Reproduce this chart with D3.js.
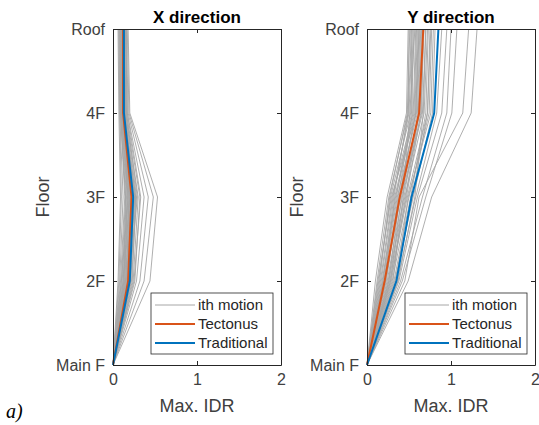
<!DOCTYPE html>
<html>
<head>
<meta charset="utf-8">
<script src="https://cdn.jsdelivr.net/npm/d3@7/dist/d3.min.js"></script>
<style>
  body { margin: 0; background: #fff; }
  text { font-family: "Liberation Sans", Arial, Helvetica, sans-serif; }
</style>
</head>
<body>
<script>
// floors, bottom to top
var floors = ["Main F", "2F", "3F", "4F", "Roof"];
var xTicks = [0, 1, 2];

// max IDR per ground motion, values at 2F, 3F, 4F, Roof (Main F = 0)
var motionsX = [
  [0.44, 0.53, 0.20, 0.18], [0.37, 0.48, 0.19, 0.17], [0.32, 0.42, 0.18, 0.16],
  [0.28, 0.37, 0.17, 0.15], [0.26, 0.32, 0.16, 0.15], [0.24, 0.30, 0.15, 0.14],
  [0.22, 0.28, 0.15, 0.13], [0.21, 0.27, 0.14, 0.13], [0.20, 0.26, 0.14, 0.12],
  [0.19, 0.25, 0.13, 0.12], [0.18, 0.24, 0.13, 0.12], [0.17, 0.23, 0.12, 0.11],
  [0.16, 0.22, 0.12, 0.11], [0.15, 0.21, 0.12, 0.10], [0.15, 0.20, 0.11, 0.10],
  [0.14, 0.19, 0.11, 0.10], [0.13, 0.18, 0.10, 0.09], [0.12, 0.17, 0.10, 0.09],
  [0.11, 0.16, 0.10, 0.09], [0.10, 0.15, 0.09, 0.08], [0.09, 0.14, 0.09, 0.08],
  [0.08, 0.12, 0.08, 0.07], [0.07, 0.10, 0.08, 0.07], [0.06, 0.09, 0.07, 0.06],
  [0.23, 0.27, 0.13, 0.14], [0.19, 0.29, 0.16, 0.12], [0.17, 0.21, 0.11, 0.13],
  [0.20, 0.24, 0.15, 0.16], [0.12, 0.20, 0.12, 0.11], [0.14, 0.17, 0.14, 0.12],
  [0.25, 0.33, 0.17, 0.15], [0.18, 0.26, 0.12, 0.10], [0.10, 0.18, 0.11, 0.10],
  [0.16, 0.19, 0.13, 0.14], [0.21, 0.23, 0.10, 0.11], [0.13, 0.15, 0.09, 0.10]
];
var tectonusX = [0.18, 0.22, 0.12, 0.12];
var traditionalX = [0.20, 0.24, 0.13, 0.13];

var motionsY = [
  [0.49, 0.77, 1.24, 1.31], [0.45, 0.62, 1.14, 1.21], [0.42, 0.70, 1.01, 1.07],
  [0.40, 0.66, 0.95, 1.00], [0.38, 0.60, 0.89, 0.95], [0.36, 0.58, 0.83, 0.89],
  [0.33, 0.55, 0.78, 0.81], [0.30, 0.50, 0.74, 0.77], [0.28, 0.48, 0.72, 0.75],
  [0.32, 0.52, 0.70, 0.73], [0.26, 0.45, 0.68, 0.72], [0.24, 0.42, 0.66, 0.70],
  [0.27, 0.47, 0.64, 0.68], [0.22, 0.40, 0.63, 0.66], [0.25, 0.44, 0.61, 0.64],
  [0.20, 0.36, 0.60, 0.63], [0.23, 0.38, 0.58, 0.62], [0.18, 0.34, 0.57, 0.60],
  [0.21, 0.33, 0.56, 0.59], [0.16, 0.30, 0.55, 0.58], [0.19, 0.35, 0.53, 0.56],
  [0.14, 0.28, 0.52, 0.55], [0.17, 0.31, 0.50, 0.54], [0.12, 0.26, 0.49, 0.53],
  [0.15, 0.27, 0.48, 0.51], [0.10, 0.24, 0.47, 0.49], [0.29, 0.46, 0.62, 0.65],
  [0.34, 0.54, 0.72, 0.76], [0.26, 0.39, 0.58, 0.61], [0.31, 0.43, 0.51, 0.57],
  [0.37, 0.57, 0.67, 0.70], [0.22, 0.37, 0.54, 0.52], [0.13, 0.29, 0.59, 0.62],
  [0.35, 0.49, 0.76, 0.79], [0.28, 0.41, 0.65, 0.67], [0.19, 0.32, 0.49, 0.50]
];
var tectonusY = [0.21, 0.39, 0.62, 0.67];
var traditionalY = [0.35, 0.53, 0.80, 0.85];

var legendNames = ["ith motion", "Tectonus", "Traditional"];

var grey = "#a6a6a6", orange = "#D95319", blue = "#0072BD";
var axisCol = "#262626", labelCol = "#404040";

var svg = d3.select("body").append("svg")
  .attr("width", 539)
  .attr("height", 425);

function drawPanel(left, title, motions, tect, trad) {
  var x = d3.scaleLinear().domain([0, 2]).range([left, left + 168]);
  var y = d3.scalePoint().domain(floors).range([365, 29]);

  var line = d3.line()
    .x(function (d) { return x(d); })
    .y(function (d, i) { return y(floors[i]); });

  var g = svg.append("g");

  motions.forEach(function (m) {
    g.append("path")
      .attr("d", line([0].concat(m)))
      .attr("fill", "none")
      .attr("stroke", grey)
      .attr("stroke-width", 0.9);
  });
  g.append("path")
    .attr("d", line([0].concat(tect)))
    .attr("fill", "none").attr("stroke", orange).attr("stroke-width", 2);
  g.append("path")
    .attr("d", line([0].concat(trad)))
    .attr("fill", "none").attr("stroke", blue).attr("stroke-width", 2);

  // axes, MATLAB style box with inward ticks
  var bottom = g.append("g").attr("transform", "translate(0,365)")
    .call(d3.axisBottom(x).tickValues(xTicks).tickFormat(d3.format("d"))
      .tickSizeInner(-4).tickSizeOuter(0).tickPadding(9));
  var top = g.append("g").attr("transform", "translate(0,29)")
    .call(d3.axisTop(x).tickValues(xTicks).tickSizeInner(-4).tickSizeOuter(0).tickFormat(""));
  var leftAx = g.append("g").attr("transform", "translate(" + left + ",0)")
    .call(d3.axisLeft(y).tickSizeInner(-4).tickSizeOuter(0).tickPadding(8));
  var rightAx = g.append("g").attr("transform", "translate(" + (left + 168) + ",0)")
    .call(d3.axisRight(y).tickSizeInner(-4).tickSizeOuter(0).tickFormat(""));

  [bottom, top, leftAx, rightAx].forEach(function (a) {
    a.attr("font-size", 16).attr("font-family", "'Liberation Sans', Arial, sans-serif");
    a.select(".domain").attr("stroke", axisCol).attr("stroke-width", 1);
    a.selectAll(".tick line").attr("stroke", axisCol);
    a.selectAll(".tick text").attr("fill", labelCol);
  });

  g.append("text")
    .attr("x", left + 84).attr("y", 23)
    .attr("text-anchor", "middle")
    .style("font-size", "17px").style("font-weight", "bold")
    .attr("fill", "#000")
    .text(title);

  g.append("text")
    .attr("x", left + 84).attr("y", 412)
    .attr("text-anchor", "middle")
    .style("font-size", "18px")
    .attr("fill", labelCol)
    .text("Max. IDR");

  g.append("text")
    .attr("transform", "translate(" + (left - 64) + ",197) rotate(-90)")
    .attr("text-anchor", "middle")
    .style("font-size", "18px")
    .attr("fill", labelCol)
    .text("Floor");

  // legend
  var lx = left + 38, ly = 293;
  var lg = g.append("g");
  lg.append("rect")
    .attr("x", lx).attr("y", ly).attr("width", 122).attr("height", 61)
    .attr("fill", "#fff").attr("stroke", axisCol).attr("stroke-width", 0.8);
  var cols = [grey, orange, blue];
  var widths = [1, 2, 2];
  legendNames.forEach(function (n, i) {
    var yy = ly + 12 + i * 19;
    lg.append("line")
      .attr("x1", lx + 4).attr("x2", lx + 44)
      .attr("y1", yy).attr("y2", yy)
      .attr("stroke", cols[i]).attr("stroke-width", widths[i]);
    lg.append("text")
      .attr("x", lx + 47).attr("y", yy + 5)
      .style("font-size", "15px")
      .attr("fill", "#262626")
      .text(n);
  });
}

drawPanel(113, "X direction", motionsX, tectonusX, traditionalX);
drawPanel(367, "Y direction", motionsY, tectonusY, traditionalY);

svg.append("text")
  .attr("x", 6).attr("y", 418)
  .style("font-family", "'Liberation Serif', 'DejaVu Serif', serif")
  .style("font-style", "italic")
  .style("font-size", "20px")
  .attr("fill", "#000")
  .text("a)");
</script>
</body>
</html>
